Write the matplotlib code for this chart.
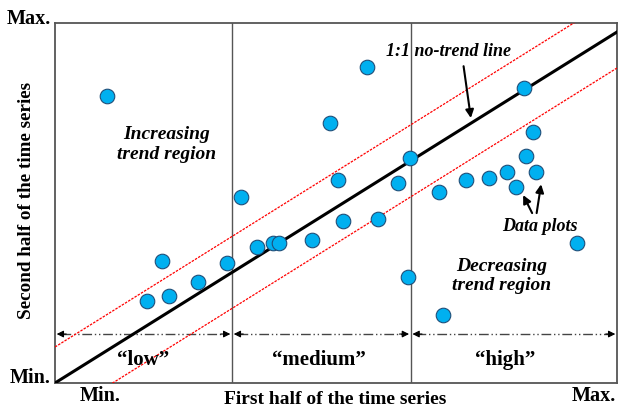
import numpy as np
import matplotlib.pyplot as plt

plt.rcParams['font.family'] = ['Liberation Serif', 'DejaVu Serif']

# Normalised values: 0 = Min., 1 = Max.
first_half = [0.093, 0.331, 0.190, 0.164, 0.203, 0.254, 0.306, 0.359, 0.388, 0.399,
              0.457, 0.512, 0.504, 0.489, 0.555, 0.575, 0.610, 0.632, 0.628, 0.690,
              0.683, 0.731, 0.772, 0.804, 0.820, 0.838, 0.856, 0.851, 0.835, 0.929]
second_half = [0.797, 0.517, 0.339, 0.228, 0.242, 0.281, 0.333, 0.378, 0.389, 0.389,
               0.397, 0.450, 0.564, 0.722, 0.878, 0.456, 0.556, 0.625, 0.294, 0.189,
               0.531, 0.564, 0.569, 0.586, 0.544, 0.631, 0.586, 0.697, 0.819, 0.389]

# Class boundaries along the first-half axis
class_edges = [0.0, 0.315, 0.633, 1.0]
class_names = ['\u201clow\u201d', '\u201cmedium\u201d', '\u201chigh\u201d']

trend_slope = 0.975
band = 0.10

fig = plt.figure(figsize=(6.19, 4.08), dpi=100)
ax = fig.add_axes([55 / 619, 25 / 408, 562 / 619, 360 / 408])
ax.set_xlim(0, 1)
ax.set_ylim(0, 1)
ax.set_xticks([])
ax.set_yticks([])
for s in ax.spines.values():
    s.set_color('#555555')
    s.set_linewidth(1.3)

# class separators
for xb in class_edges[1:-1]:
    ax.axvline(xb, color='#555555', lw=1.0)

# 1:1 line and its band
xs = np.array([0.0, 1.0])
ax.plot(xs, trend_slope * xs, color='black', lw=2.2, zorder=3)
ax.plot(xs, trend_slope * xs + band, color='red', lw=0.9, ls=(0, (2, 1)), zorder=3)
ax.plot(xs, trend_slope * xs - band, color='red', lw=0.9, ls=(0, (2, 1)), zorder=3)

# class range arrows
ya = 0.136
label_shift = [0.0, -0.005, -0.015]
for i, name in enumerate(class_names):
    x0, x1 = class_edges[i], class_edges[i + 1]
    ax.plot([x0 + 0.01, x1 - 0.01], [ya, ya], color='#444444', lw=1.0,
            ls=(0, (7, 2, 1, 2, 1, 2)))
    for tip, tail in [(x0 + 0.003, x0 + 0.02), (x1 - 0.003, x1 - 0.02)]:
        ax.annotate('', xy=(tip, ya), xytext=(tail, ya),
                    arrowprops=dict(arrowstyle='-|>', color='black', lw=0.8,
                                    mutation_scale=10, shrinkA=0, shrinkB=0))
    ax.text((x0 + x1) / 2 + label_shift[i], 0.065, name, ha='center', va='center',
            fontsize=15, fontweight='bold')

ax.scatter(first_half, second_half, s=110, color='#00B0F0', edgecolor='#1F4E79',
           linewidth=0.8, zorder=4)

# annotations
ax.text(0.199, 0.663, 'Increasing\ntrend region', ha='center', va='center',
        fontsize=14, fontweight='bold', style='italic', linespacing=1.2)
ax.text(0.795, 0.297, 'Decreasing\ntrend region', ha='center', va='center',
        fontsize=14, fontweight='bold', style='italic', linespacing=1.2)
ax.text(0.701, 0.92, '1:1 no-trend line', ha='center', va='center',
        fontsize=13, fontweight='bold', style='italic')
ax.annotate('', xy=(0.740, 0.736), xytext=(0.727, 0.88),
            arrowprops=dict(arrowstyle='-|>', color='black', lw=1.5,
                            mutation_scale=12, shrinkA=0, shrinkB=0))
ax.text(0.863, 0.436, 'Data plots', ha='center', va='center',
        fontsize=13, fontweight='bold', style='italic')
ax.annotate('', xy=(0.833, 0.522), xytext=(0.849, 0.472),
            arrowprops=dict(arrowstyle='-|>', color='black', lw=1.5,
                            mutation_scale=12, shrinkA=0, shrinkB=0))
ax.annotate('', xy=(0.865, 0.552), xytext=(0.857, 0.472),
            arrowprops=dict(arrowstyle='-|>', color='black', lw=1.5,
                            mutation_scale=12, shrinkA=0, shrinkB=0))

# axis end labels
fig.text(51 / 619, 1 - 19 / 408, 'Max.', ha='right', va='center', fontsize=14.5, fontweight='bold')
fig.text(51 / 619, 1 - 378 / 408, 'Min.', ha='right', va='center', fontsize=14.5, fontweight='bold')
fig.text(80 / 619, 1 - 396 / 408, 'Min.', ha='left', va='center', fontsize=14.5, fontweight='bold')
fig.text(616 / 619, 1 - 396 / 408, 'Max.', ha='right', va='center', fontsize=14.5, fontweight='bold')
fig.text(335 / 619, 1 - 399 / 408, 'First half of the time series', ha='center', va='center',
         fontsize=14, fontweight='bold')
fig.text(27 / 619, 1 - 200 / 408, 'Second half of the time series', ha='center', va='center',
         rotation=90, fontsize=13.8, fontweight='bold')

fig.savefig('out.png', dpi=100)
